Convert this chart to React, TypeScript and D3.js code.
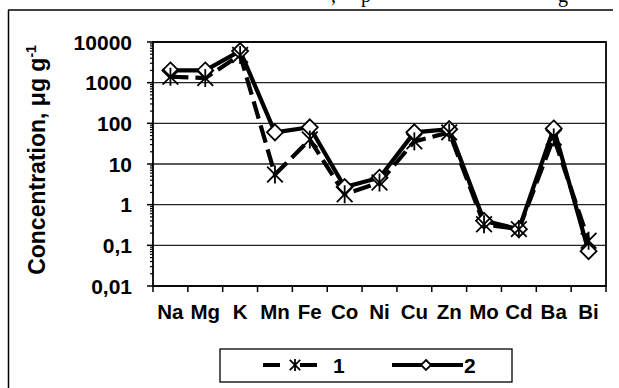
import React from "react";
import * as d3 from "d3";

const categories = ["Na", "Mg", "K", "Mn", "Fe", "Co", "Ni", "Cu", "Zn", "Mo", "Cd", "Ba", "Bi"];
const series1 = [1400, 1300, 4800, 5.5, 40, 1.8, 3.5, 36, 60, 0.33, 0.25, 45, 0.13];
const series2 = [2000, 2000, 6000, 60, 80, 2.7, 4.6, 60, 72, 0.4, 0.25, 75, 0.072];
const yTicks = [10000, 1000, 100, 10, 1, 0.1, 0.01];
const yTickLabels = ["10000", "1000", "100", "10", "1", "0,1", "0,01"];
const seriesNames = ["1", "2"];

const W = 619;
const H = 388;
const plot = { left: 153, right: 606, top: 42, bottom: 286 };
const FONT = "'Liberation Sans', Arial, sans-serif";

function Asterisk({ x, y, r }: { x: number; y: number; r: number }) {
  const d = r * 0.87;
  return (
    <g stroke="#000" strokeWidth={1.8} fill="none">
      <line x1={x - d} y1={y - d} x2={x + d} y2={y + d} />
      <line x1={x - d} y1={y + d} x2={x + d} y2={y - d} />
      <line x1={x} y1={y - r} x2={x} y2={y + r} />
    </g>
  );
}

function Diamond({ x, y, r }: { x: number; y: number; r: number }) {
  return (
    <path
      d={`M${x},${y - r}L${x + r},${y}L${x},${y + r}L${x - r},${y}Z`}
      fill="#fff"
      stroke="#000"
      strokeWidth={1.8}
    />
  );
}

export default function App() {
  const x = d3.scaleBand<string>().domain(categories).range([plot.left, plot.right]);
  const y = d3.scaleLog().domain([0.01, 10000]).range([plot.bottom, plot.top]);
  const cx = (c: string) => (x(c) as number) + x.bandwidth() / 2;

  const line = d3
    .line<number>()
    .x((_, i) => cx(categories[i]))
    .y((v) => y(v));

  const minorTicks: number[] = [];
  for (let e = -2; e < 4; e++) {
    for (let k = 2; k <= 9; k++) minorTicks.push(k * Math.pow(10, e));
  }
  const boundaries = categories.map((c) => x(c) as number).concat([plot.right]);

  return (
    <svg
      width={W}
      height={H}
      style={{ position: "absolute", left: 0, top: 0, background: "#fff" }}
    >
      {/* surrounding page text and frame */}
      <g fontFamily="'Liberation Serif', 'Times New Roman', serif" fontSize={20} fill="#000">
        <text x={331} y={2}>,</text>
        <text x={361} y={2}>p</text>
        <text x={558} y={2}>g</text>
      </g>
      <line x1={8} y1={10} x2={613} y2={10} stroke="#000" strokeWidth={1.5} />
      <line x1={8.5} y1={10} x2={8.5} y2={H} stroke="#000" strokeWidth={1.5} />

      {/* gridlines */}
      {yTicks.map((t) => (
        <line
          key={t}
          x1={plot.left}
          x2={plot.right}
          y1={y(t)}
          y2={y(t)}
          stroke="#222"
          strokeWidth={1.3}
        />
      ))}
      <rect
        x={plot.left}
        y={plot.top}
        width={plot.right - plot.left}
        height={plot.bottom - plot.top}
        fill="none"
        stroke="#000"
        strokeWidth={1.8}
      />

      {/* y axis ticks */}
      {yTicks.map((t) => (
        <line key={"M" + t} x1={plot.left - 6} x2={plot.left} y1={y(t)} y2={y(t)} stroke="#000" strokeWidth={1.5} />
      ))}
      {minorTicks.map((t) => (
        <line key={"m" + t} x1={plot.left - 3} x2={plot.left} y1={y(t)} y2={y(t)} stroke="#000" strokeWidth={1.2} />
      ))}
      <g fontFamily={FONT} fontWeight="bold" fontSize={21} fill="#000" textAnchor="end">
        {yTicks.map((t, i) => (
          <text key={t} x={132} y={y(t)} dy="0.36em">
            {yTickLabels[i]}
          </text>
        ))}
      </g>

      {/* x axis ticks and labels */}
      {boundaries.map((b, i) => (
        <line key={i} x1={b} x2={b} y1={plot.bottom} y2={plot.bottom + 6} stroke="#000" strokeWidth={1.5} />
      ))}
      <g fontFamily={FONT} fontWeight="bold" fontSize={20.5} fill="#000" textAnchor="middle">
        {categories.map((c) => (
          <text key={c} x={cx(c)} y={319}>
            {c}
          </text>
        ))}
      </g>

      {/* y axis title */}
      <text
        transform="translate(45,160) rotate(-90)"
        fontFamily={FONT}
        fontWeight="bold"
        fontSize={23}
        textAnchor="middle"
        fill="#000"
      >
        Concentration, μg g<tspan dy="-9" fontSize={14}>-1</tspan>
      </text>

      {/* series lines */}
      <path d={line(series1) || ""} fill="none" stroke="#000" strokeWidth={4.2} strokeDasharray="18 7" />
      <path d={line(series2) || ""} fill="none" stroke="#000" strokeWidth={4.2} />
      {series2.map((v, i) => (
        <Diamond key={"d" + i} x={cx(categories[i])} y={y(v)} r={8} />
      ))}
      {series1.map((v, i) => (
        <Asterisk key={"a" + i} x={cx(categories[i])} y={y(v)} r={9} />
      ))}

      {/* legend */}
      <rect x={220} y={349} width={292} height={33} fill="#fff" stroke="#000" strokeWidth={1.3} />
      <line x1={263} x2={280} y1={365} y2={365} stroke="#000" strokeWidth={4} />
      <line x1={300} x2={317} y1={365} y2={365} stroke="#000" strokeWidth={4} />
      <Asterisk x={295} y={365} r={6} />
      <line x1={392} x2={463} y1={365} y2={365} stroke="#000" strokeWidth={4} />
      <Diamond x={426} y={365} r={5} />
      <g fontFamily={FONT} fontWeight="bold" fontSize={21} fill="#000">
        <text x={333} y={373}>{seriesNames[0]}</text>
        <text x={464} y={373}>{seriesNames[1]}</text>
      </g>
    </svg>
  );
}
